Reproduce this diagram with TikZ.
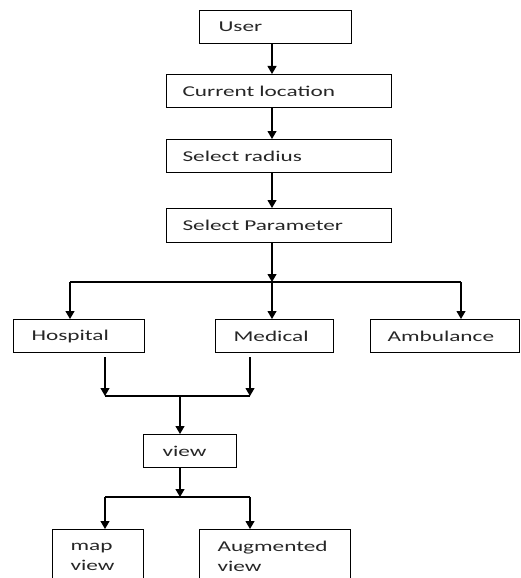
\documentclass[tikz,border=0pt]{standalone}
\usepackage{fontspec}
\setmainfont{Carlito}[FakeStretch=1.55]
\usetikzlibrary{arrows.meta}
\hyphenpenalty=10000
\exhyphenpenalty=10000
\newcommand\bxfont{\fontsize{15}{20}\selectfont}
\begin{document}
\begin{tikzpicture}[x=1pt,y=-1pt,
  box/.style={draw, line width=1.1pt, anchor=north west, align=left, inner ysep=0pt,
    font=\bxfont, text=black!85},
  arr/.style={-{Triangle[width=9pt,length=8pt]}, line width=1.1pt},
  ln/.style={line width=1.1pt}]
\useasboundingbox (0,0) rectangle (520,578);
\clip (0,0) rectangle (520,578);
\node[box, inner xsep=19pt, text width=114pt, minimum height=33pt] (user) at (199,10) {User};
\node[box, inner xsep=16pt, text width=193pt, minimum height=33pt] (cur) at (166,74) {Current location};
\node[box, inner xsep=16pt, text width=193pt, minimum height=33pt] (rad) at (166,139) {Select radius};
\node[box, inner xsep=16pt, text width=193pt, minimum height=34pt] (par) at (166,208) {Select Parameter};
\node[box, inner xsep=18pt, text width=95pt, minimum height=33pt] (hosp) at (13,319) {Hospital};
\node[box, inner xsep=18pt, text width=82pt, minimum height=33pt] (med) at (215,319) {Medical};
\node[box, inner xsep=17pt, text width=115pt, minimum height=33pt] (amb) at (370,319) {Ambulance};
\node[box, inner xsep=19pt, text width=55pt, minimum height=33pt] (view) at (143,434) {view};
\node[box, inner xsep=18pt, text width=55pt, minimum height=54pt] (map) at (52,529) {map\\view};
\node[box, inner xsep=18pt, text width=115pt, minimum height=54pt] (aug) at (199,529) {Augmented\\view};
\coordinate (sx) at (272,0);
\draw[arr] (user.south -| sx) -- (cur.north -| sx);
\draw[arr] (cur.south -| sx) -- (rad.north -| sx);
\draw[arr] (rad.south -| sx) -- (par.north -| sx);
\coordinate (b0) at (272,282);
\coordinate (b1) at (70,282);
\coordinate (b3) at (461,282);
\draw[arr] (par.south -| sx) -- (b0);
\draw[ln] (b1) -- (b3);
\draw[arr] (b1) -- (b1 |- hosp.north);
\draw[arr] (b0) -- (b0 |- med.north);
\draw[arr] (b3) -- (b3 |- amb.north);
\coordinate (h1) at (105,357);
\coordinate (m1) at (250,357);
\coordinate (j1) at (105,396);
\coordinate (j2) at (250,396);
\draw[arr] (h1) -- (j1);
\draw[arr] (m1) -- (j2);
\draw[ln] (j1) -- (j2);
\coordinate (jv) at (180,396);
\draw[arr] (jv) -- (jv |- view.north);
\coordinate (k0) at (180,497);
\coordinate (k1) at (105,497);
\coordinate (k2) at (250,497);
\draw[arr] (view.south -| jv) -- (k0);
\draw[ln] (k1) -- (k2);
\draw[arr] (k1) -- (k1 |- map.north);
\draw[arr] (k2) -- (k2 |- aug.north);
\end{tikzpicture}
\end{document}
